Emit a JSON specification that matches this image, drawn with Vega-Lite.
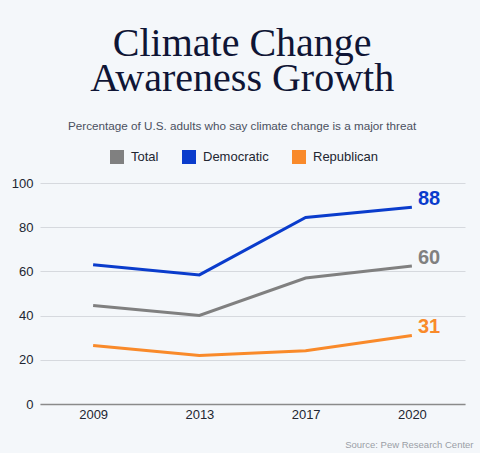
{
  "$schema": "https://vega.github.io/schema/vega-lite/v6.json",
  "width": 425,
  "height": 221,
  "autosize": {"type": "none"},
  "padding": {"left": 40, "top": 183, "right": 15, "bottom": 49},
  "background": "#f4f7fa",
  "title": {
    "text": ["Climate Change", "Awareness Growth"],
    "subtitle": "Percentage of U.S. adults who say climate change is a major threat",
    "frame": "bounds",
    "anchor": "middle",
    "font": "Liberation Serif",
    "fontSize": 40,
    "fontWeight": "normal",
    "lineHeight": 35,
    "color": "#0f1535",
    "subtitleFont": "Liberation Sans",
    "subtitleFontSize": 11.7,
    "subtitleColor": "#4a5060",
    "subtitlePadding": 22,
    "offset": 17
  },
  "data": {
    "values": [
      {"year": "2009", "group": "Total", "value": 44.6, "label": null},
      {"year": "2013", "group": "Total", "value": 40.1, "label": null},
      {"year": "2017", "group": "Total", "value": 57.0, "label": null},
      {"year": "2020", "group": "Total", "value": 62.4, "label": "60"},
      {"year": "2009", "group": "Democratic", "value": 63.0, "label": null},
      {"year": "2013", "group": "Democratic", "value": 58.4, "label": null},
      {"year": "2017", "group": "Democratic", "value": 84.4, "label": null},
      {"year": "2020", "group": "Democratic", "value": 89.0, "label": "88"},
      {"year": "2009", "group": "Republican", "value": 26.5, "label": null},
      {"year": "2013", "group": "Republican", "value": 21.9, "label": null},
      {"year": "2017", "group": "Republican", "value": 24.1, "label": null},
      {"year": "2020", "group": "Republican", "value": 31.0, "label": "31"}
    ]
  },
  "encoding": {
    "x": {
      "field": "year",
      "type": "ordinal",
      "scale": {"type": "point", "padding": 0.5},
      "axis": {
        "title": "Source: Pew Research Center",
        "titleFont": "Liberation Sans",
        "titleFontSize": 9.5,
        "titleFontWeight": "normal",
        "titleColor": "#9a9ea6",
        "titleAlign": "right",
        "titleAnchor": "end",
        "titleX": 433,
        "titleY": 43,
        "titleBaseline": "alphabetic",
        "labelAngle": 0,
        "labelFont": "Liberation Sans",
        "labelFontSize": 13,
        "labelColor": "#222631",
        "labelPadding": 4,
        "ticks": false,
        "domainColor": "#8a8a8a",
        "domainWidth": 1.5,
        "grid": false
      }
    },
    "y": {
      "field": "value",
      "type": "quantitative",
      "scale": {"domain": [0, 100]},
      "axis": {
        "title": null,
        "values": [0, 20, 40, 60, 80, 100],
        "labelFont": "Liberation Sans",
        "labelFontSize": 13,
        "labelColor": "#222631",
        "labelPadding": 7,
        "ticks": false,
        "domain": false,
        "gridColor": "#d6d9de",
        "gridWidth": 1
      }
    },
    "color": {
      "field": "group",
      "type": "nominal",
      "scale": {
        "domain": ["Total", "Democratic", "Republican"],
        "range": ["#808080", "#0a3ccc", "#f98a2a"]
      },
      "legend": {
        "title": null,
        "orient": "none",
        "legendX": 70,
        "legendY": -33,
        "direction": "horizontal",
        "symbolType": "square",
        "symbolSize": 196,
        "symbolStrokeWidth": 0,
        "symbolOpacity": 1,
        "labelFont": "Liberation Sans",
        "labelFontSize": 13,
        "labelColor": "#222631",
        "labelOffset": 7,
        "columnPadding": 23
      }
    }
  },
  "layer": [
    {
      "mark": {"type": "line", "strokeWidth": 3}
    },
    {
      "transform": [{"filter": "datum.label != null"}],
      "mark": {
        "type": "text",
        "align": "left",
        "baseline": "middle",
        "dx": 6,
        "dy": -8,
        "font": "Liberation Sans",
        "fontSize": 20,
        "fontWeight": "bold"
      },
      "encoding": {
        "text": {"field": "label"}
      }
    }
  ],
  "config": {
    "view": {"stroke": null},
    "legend": {"symbolFillOpacity": 1}
  }
}
